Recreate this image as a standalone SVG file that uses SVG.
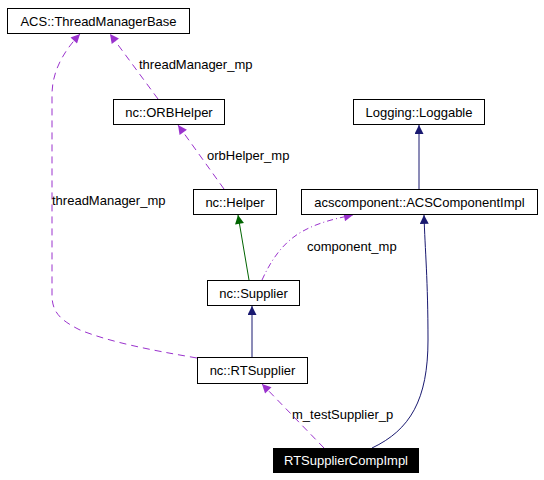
<svg xmlns="http://www.w3.org/2000/svg" width="544" height="480" viewBox="0 0 544 480">
<style>
text{font-family:"Liberation Sans",Arial,sans-serif;font-size:13px;fill:#000}
.box{fill:#fff;stroke:#000;stroke-width:1}
.lbl{text-anchor:middle}
.use{fill:none;stroke:#9a32cd;stroke-width:1;stroke-dasharray:7,5}
.inh{fill:none;stroke:#191970;stroke-width:1}
.inhg{fill:none;stroke:#006400;stroke-width:1}
</style>
<defs>
<marker id="ap" viewBox="0 0 10 10" refX="10" refY="5" markerUnits="userSpaceOnUse" markerWidth="12" markerHeight="9" orient="auto"><path d="M0,0 L10,5 L0,10 z" fill="#9a32cd"/></marker>
<marker id="an" viewBox="0 0 10 10" refX="10" refY="5" markerUnits="userSpaceOnUse" markerWidth="12" markerHeight="9" orient="auto"><path d="M0,0 L10,5 L0,10 z" fill="#191970"/></marker>
<marker id="ag" viewBox="0 0 10 10" refX="10" refY="5" markerUnits="userSpaceOnUse" markerWidth="12" markerHeight="9" orient="auto"><path d="M0,0 L10,5 L0,10 z" fill="#006400"/></marker>
</defs>
<g id="connectors">
<path class="use" d="M158,99 L110,34" marker-end="url(#ap)"/>
<text x="139" y="69">threadManager_mp</text>
<path class="use" d="M197,358 C150,350 110,342 80,330 C60,320 52,312 52,295 L52,95 C52,75 60,55 80,34" marker-end="url(#ap)"/>
<text x="52" y="205">threadManager_mp</text>
<path class="use" d="M224,189 L178,125" marker-end="url(#ap)"/>
<text x="207" y="160">orbHelper_mp</text>
<path class="inh" d="M419,189 L419,125" marker-end="url(#an)"/>
<path class="inhg" d="M249,280 L238,215" marker-end="url(#ag)"/>
<path class="use" style="stroke-dasharray:6,3,1,3" d="M262,280 C272,258 285,240 305,230 C320,222 338,218 353,215" marker-end="url(#ap)"/>
<text x="307" y="251">component_mp</text>
<path class="inh" d="M252,357 L252,306" marker-end="url(#an)"/>
<path class="use" d="M324,448 L262,384" marker-end="url(#ap)"/>
<text x="292" y="419">m_testSupplier_p</text>
<path class="inh" d="M372,448 C410,430 428,400 428,340 C428,280 425,250 424,215" marker-end="url(#an)"/>
</g>
<g id="ThreadManagerBase"><rect class="box" x="7.5" y="8.5" width="182" height="25"/><text class="lbl" x="98.5" y="26">ACS::ThreadManagerBase</text></g>
<g id="ORBHelper"><rect class="box" x="113.5" y="99.5" width="111" height="25"/><text class="lbl" x="169" y="117">nc::ORBHelper</text></g>
<g id="Loggable"><rect class="box" x="353.5" y="99.5" width="131" height="25"/><text class="lbl" x="419" y="117">Logging::Loggable</text></g>
<g id="Helper"><rect class="box" x="193.5" y="189.5" width="83" height="25"/><text class="lbl" x="235" y="207">nc::Helper</text></g>
<g id="ACSComponentImpl"><rect class="box" x="301.5" y="189.5" width="236" height="25"/><text class="lbl" x="419.5" y="207">acscomponent::ACSComponentImpl</text></g>
<g id="Supplier"><rect class="box" x="207.5" y="280.5" width="92" height="25"/><text class="lbl" x="253.5" y="298">nc::Supplier</text></g>
<g id="RTSupplier"><rect class="box" x="197.5" y="357.5" width="110" height="26"/><text class="lbl" x="252.5" y="375">nc::RTSupplier</text></g>
<g id="RTSupplierCompImpl"><rect x="273" y="448" width="146" height="25" fill="#000"/><text class="lbl" x="346" y="465" style="fill:#fff">RTSupplierCompImpl</text></g>
</svg>
